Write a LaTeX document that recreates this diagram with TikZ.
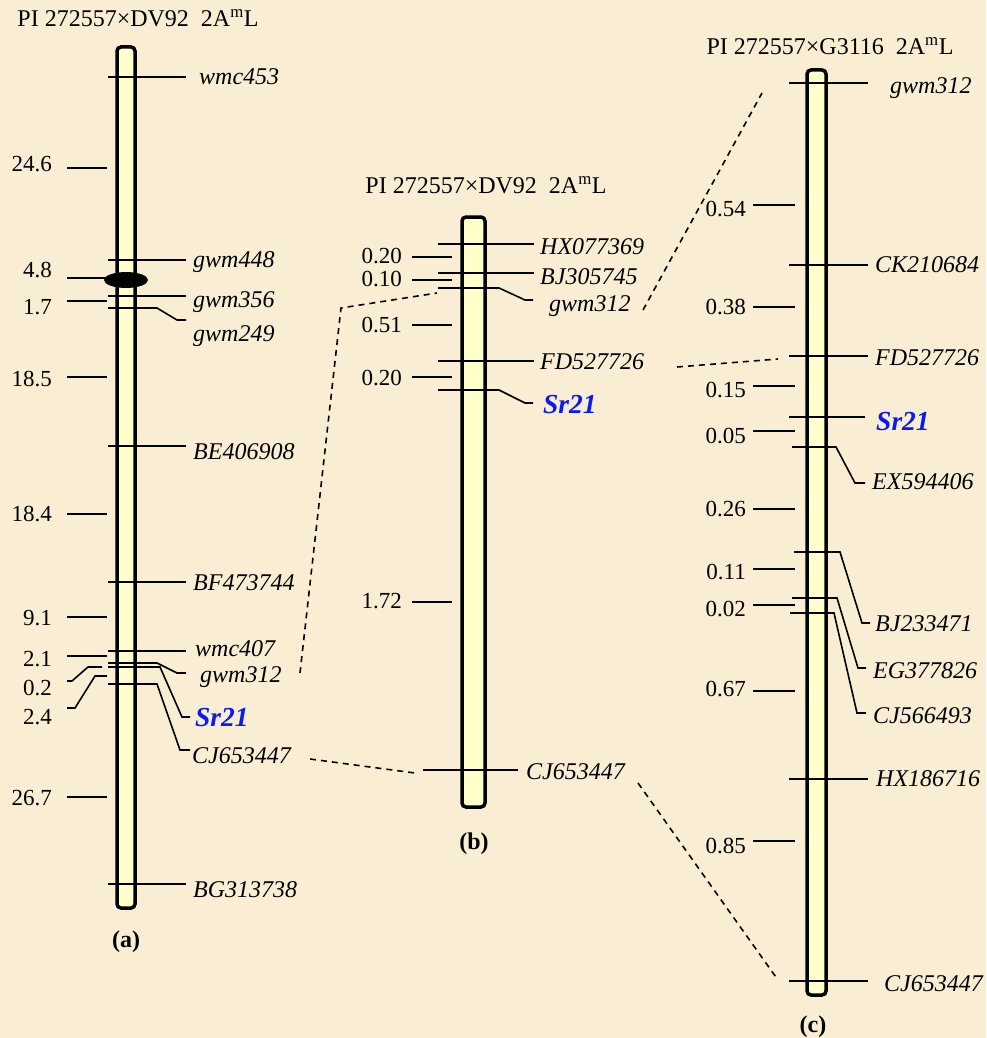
\documentclass[tikz,border=0pt]{standalone}
\usepackage{fontspec}
\setmainfont{Liberation Serif}
\usetikzlibrary{positioning}
\definecolor{bgParch}{HTML}{F9EED3}
\definecolor{chrFill}{HTML}{FFFFCC}
\definecolor{srBlue}{HTML}{0A1AF0}
\begin{document}
\begin{tikzpicture}[x=1pt, y=-1pt,
  every node/.style={inner sep=0pt, yshift=-5pt, font=\fontsize{23}{27}\selectfont},
  chrom/.style={draw, line width=3.5pt, fill=chrFill, rounded corners=4pt},
  tick/.style={line width=1.6pt},
  link/.style={line width=1.6pt, dash pattern=on 6pt off 5pt},
  mk/.style={anchor=mid west, font=\fontsize{24}{28}\selectfont\itshape},
  gene/.style={anchor=mid west, text=srBlue,
               font=\fontsize{27.5}{32}\selectfont\bfseries\itshape},
  dist/.style={anchor=mid east},
  ttl/.style={anchor=mid, font=\fontsize{24}{28}\selectfont},
  panel/.style={anchor=mid, font=\fontsize{24}{28}\selectfont\bfseries}]
  \fill[bgParch] (0,0) rectangle (986,1038);
  \useasboundingbox (0,0) rectangle (986,1038);
  % chromosomes
  \draw[chrom] (117,47) rectangle (135,908);
  \draw[chrom] (462,217) rectangle (485,807);
  \draw[chrom] (807,70) rectangle (826,995);
  \fill (126,280) ellipse (22pt and 8pt);
  % titles
  \node[ttl] (ta) at (138,19) {PI 272557×DV92\ \ 2A\textsuperscript{m}L};
  \node[ttl] (tb) at (486,186) {PI 272557×DV92\ \ 2A\textsuperscript{m}L};
  \node[ttl] (tc) at (830,47) {PI 272557×G3116\ \ 2A\textsuperscript{m}L};
  \node[panel] (pa) at (126,940) {(a)};
  \node[panel] (pb) at (474,842) {(b)};
  \node[panel] (pc) at (813,1025) {(c)};
  % (a)
  \foreach \y/\lx/\ly/\t in {77/199/77/wmc453, 260/193/260/gwm448, 296/193/300/gwm356,
      446/193/452/BE406908, 582/193/583/BF473744, 651/195/649/wmc407, 884/193/890/BG313738}
    {\draw[tick] (108,\y) -- (186,\y);
     \node[mk] (a-\t) at (\lx,\ly) {\t};}
  \foreach \y/\ly/\t in {168/164/24.6, 278/270/4.8, 301/307/1.7, 377/379/18.5,
      514/514/18.4, 617/618/9.1, 656/659/2.1, 797/798/26.7}
    {\draw[tick] (67,\y) -- (107,\y);
     \node[dist] (ad-\t) at (52,\ly) {\t};}
  \draw[tick] (108,308) -- (157,308) -- (177,320) -- (186,320);
  \node[mk] (a-gwm249) at (193,334) {gwm249};
  \draw[tick] (108,663) -- (157,663) -- (177,673) -- (186,673);
  \node[mk] (a-gwm312) at (200,675) {gwm312};
  \draw[tick] (108,667) -- (160,667) -- (182,717) -- (190,717);
  \node[gene] (a-sr) at (195,719) {Sr21};
  \draw[tick] (108,684) -- (157,684) -- (180,750) -- (190,750);
  \node[mk] (a-cj) at (192,756) {CJ653447};
  \draw[tick] (67,681) -- (72,681) -- (88,667) -- (102,667);
  \node[dist] (ad-02) at (52,688) {0.2};
  \draw[tick] (67,708) -- (75,708) -- (95,676) -- (107,676);
  \node[dist] (ad-24) at (52,717) {2.4};
  % (b)
  \foreach \y/\ly/\t in {244/247/HX077369, 273/277/BJ305745, 361/362/FD527726}
    {\draw[tick] (438,\y) -- (534,\y);
     \node[mk] (b-\t) at (540,\ly) {\t};}
  \foreach \y/\ly/\t in {257/256/0.20, 280/279/0.10, 325/325/0.51, 377/378/0.20, 602/601/1.72}
    {\draw[tick] (412,\y) -- (452,\y);
     \node[dist] (bd-\y) at (402,\ly) {\t};}
  \draw[tick] (438,288) -- (499,288) -- (525,300) -- (533,300);
  \node[mk] (b-gwm312) at (549,304) {gwm312};
  \draw[tick] (438,390) -- (499,390) -- (525,403) -- (533,403);
  \node[gene] (b-sr) at (543,406) {Sr21};
  \draw[tick] (423,770) -- (518,770);
  \node[mk] (b-cj) at (526,772) {CJ653447};
  % (c)
  \foreach \y/\lx/\ly/\t in {83/890/86/gwm312, 265/875/265/CK210684, 356/875/358/FD527726,
      779/876/779/HX186716, 981/884/984/CJ653447}
    {\draw[tick] (789,\y) -- (868,\y);
     \node[mk] (c-\t) at (\lx,\ly) {\t};}
  \foreach \y/\ly/\t in {205/209/0.54, 307/307/0.38, 386/390/0.15, 431/436/0.05,
      509/509/0.26, 569/572/0.11, 605/609/0.02, 691/689/0.67, 841/846/0.85}
    {\draw[tick] (753,\y) -- (795,\y);
     \node[dist] (cd-\y) at (746,\ly) {\t};}
  \draw[tick] (789,417) -- (865,417);
  \node[gene] (c-sr) at (876,423) {Sr21};
  \draw[tick] (792,447) -- (836,447) -- (855,483) -- (865,483);
  \node[mk] (c-ex) at (872,482) {EX594406};
  \draw[tick] (794,552) -- (840,552) -- (862,623) -- (870,623);
  \node[mk] (c-bj) at (875,624) {BJ233471};
  \draw[tick] (792,598) -- (837,598) -- (858,668) -- (866,668);
  \node[mk] (c-eg) at (873,671) {EG377826};
  \draw[tick] (790,613) -- (834,613) -- (857,713) -- (866,713);
  \node[mk] (c-cj5) at (873,716) {CJ566493};
  % links
  \coordinate (l1) at (300,668);
  \coordinate (l2) at (341,303);
  \coordinate (l3) at (437,288);
  \coordinate (l4) at (310,754);
  \coordinate (l5) at (415,768);
  \coordinate (l6) at (643,305);
  \coordinate (l7) at (762,88);
  \coordinate (l8) at (677,362);
  \coordinate (l9) at (778,354);
  \coordinate (l10) at (638,778);
  \coordinate (l11) at (778,975);
  \draw[link] (l1) -- (l2) -- (l3);
  \draw[link] (l4) -- (l5);
  \draw[link] (l6) -- (l7);
  \draw[link] (l8) -- (l9);
  \draw[link] (l10) -- (l11);
\end{tikzpicture}
\end{document}
